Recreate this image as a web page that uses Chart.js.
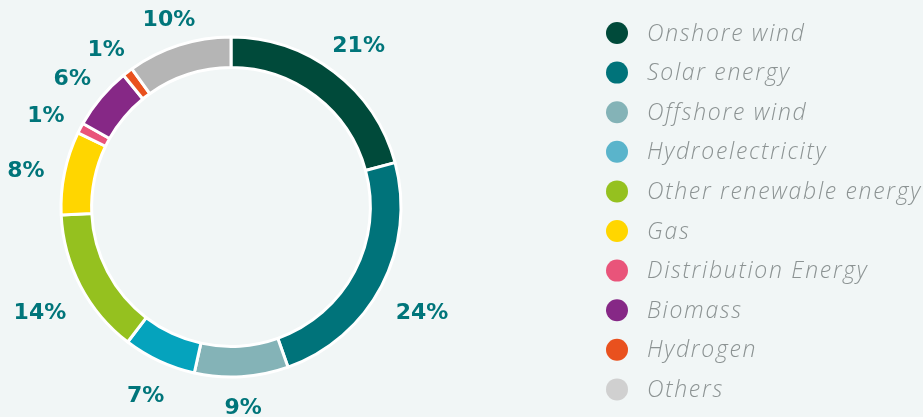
<!DOCTYPE html>
<html>
<head>
<meta charset="utf-8">
<script src="https://cdn.jsdelivr.net/npm/chart.js@4.4.1/dist/chart.umd.min.js"></script>
<style>
  html, body { margin: 0; padding: 0; background: #f1f6f6; }
  #wrap { width: 923px; height: 417px; }
</style>
</head>
<body>
<div id="wrap"><canvas id="mixChart" width="923" height="417"></canvas></div>
<script>
// energy mix, in percent
var labels = ['Onshore wind', 'Solar energy', 'Offshore wind', 'Hydroelectricity',
  'Other renewable energy', 'Gas', 'Distribution Energy', 'Biomass', 'Hydrogen', 'Others'];
var shares = [21, 24, 9, 7, 14, 8, 1, 6, 1, 10];
var sliceColors = ['#004a3a', '#00737a', '#84b3b7', '#05a3bd', '#95c11f',
  '#ffd600', '#e9547a', '#862886', '#e9511e', '#b5b5b5'];
var legendColors = ['#004a3a', '#00737a', '#84b3b7', '#5ab4cb', '#95c11f',
  '#ffd600', '#e9547a', '#862886', '#e9511e', '#d0d0d0'];

// percent labels outside the ring, small neighbours pushed apart a bit
var outsideLabels = {
  id: 'outsideLabels',
  afterDatasetsDraw: function (chart) {
    var ctx = chart.ctx;
    var meta = chart.getDatasetMeta(0);
    var minGap = 12 * Math.PI / 180;
    var arcs = meta.data.map(function (arc) {
      return arc.getProps(['x', 'y', 'startAngle', 'endAngle', 'outerRadius'], true);
    });
    var mids = arcs.map(function (p) { return (p.startAngle + p.endAngle) / 2; });
    for (var k = 0; k < 20; k++) {
      for (var i = 1; i < mids.length; i++) {
        var d = mids[i] - mids[i - 1];
        if (d < minGap) {
          mids[i - 1] -= (minGap - d) / 2;
          mids[i] += (minGap - d) / 2;
        }
      }
    }
    ctx.save();
    ctx.font = 'bold 22px "DejaVu Sans"';
    ctx.fillStyle = '#00757a';
    ctx.textAlign = 'center';
    ctx.textBaseline = 'middle';
    arcs.forEach(function (p, i) {
      var mid = mids[i];
      var txt = shares[i] + '%';
      var hw = ctx.measureText(txt).width / 2;
      var r = p.outerRadius + 20 + hw * Math.abs(Math.cos(mid)) + 5 * Math.abs(Math.sin(mid));
      ctx.fillText(txt, p.x + r * Math.cos(mid), p.y + 6 + r * Math.sin(mid));
    });
    ctx.restore();
  }
};

// legend column on the right
var sideLegend = {
  id: 'sideLegend',
  afterDraw: function (chart) {
    var ctx = chart.ctx;
    ctx.save();
    ctx.font = 'italic 300 23px "Open Sans"';
    ctx.letterSpacing = '1.7px';
    ctx.textBaseline = 'middle';
    ctx.textAlign = 'left';
    labels.forEach(function (name, i) {
      var y = 33 + i * 39.6;
      ctx.beginPath();
      ctx.fillStyle = legendColors[i];
      ctx.arc(617, y, 11, 0, Math.PI * 2);
      ctx.fill();
      ctx.fillStyle = '#8c9393';
      ctx.fillText(name, 647, y + 1);
    });
    ctx.restore();
  }
};

new Chart(document.getElementById('mixChart'), {
  type: 'doughnut',
  data: {
    labels: labels,
    datasets: [{
      data: shares,
      backgroundColor: sliceColors,
      borderColor: '#ffffff',
      borderWidth: 3,
      radius: 170
    }]
  },
  options: {
    responsive: false,
    animation: false,
    cutout: '82%',
    layout: { padding: { left: 0, right: 461, top: 0, bottom: 3 } },
    plugins: {
      legend: { display: false },
      tooltip: { enabled: false }
    }
  },
  plugins: [outsideLabels, sideLegend]
});
</script>
</body>
</html>
